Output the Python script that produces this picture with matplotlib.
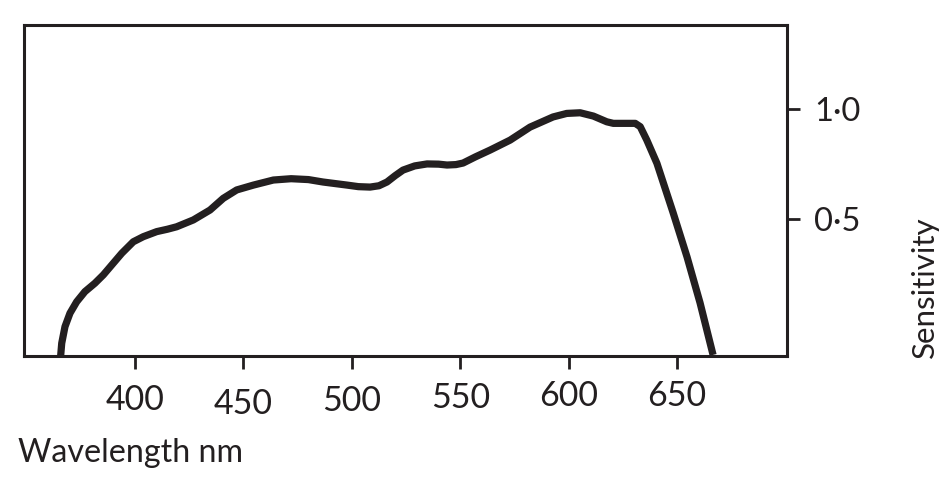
import matplotlib
matplotlib.use("Agg")
import matplotlib.pyplot as plt
import matplotlib.transforms as mtransforms

wavelength = [365.7, 366.2, 367.7, 370.0, 373.1, 376.9, 381.5, 385.4, 389.3, 393.9,
              399.2, 403.8, 410.0, 415.0, 419.2, 426.9, 434.6, 440.7, 446.9, 454.6,
              463.8, 472.0, 480.0, 486.7, 497.8, 503.0, 508.4, 512.5, 516.2, 520.0,
              523.6, 529.0, 534.7, 540.0, 543.9, 548.0, 551.3, 557.0, 563.8, 573.0,
              582.2, 592.8, 599.1, 605.3, 611.4, 617.6, 620.6, 630.7, 633.0, 636.0,
              640.7, 648.2, 654.6, 660.6, 666.6]
sensitivity = [-0.12, -0.062, 0.013, 0.074, 0.126, 0.172, 0.210, 0.248, 0.293, 0.346,
               0.398, 0.421, 0.444, 0.455, 0.466, 0.497, 0.542, 0.595, 0.633, 0.655,
               0.678, 0.684, 0.680, 0.669, 0.655, 0.648, 0.646, 0.652, 0.669, 0.698,
               0.723, 0.742, 0.751, 0.750, 0.746, 0.748, 0.755, 0.783, 0.814, 0.859,
               0.918, 0.964, 0.980, 0.983, 0.968, 0.942, 0.935, 0.935, 0.920, 0.860,
               0.754, 0.529, 0.329, 0.121, -0.115]

xticks = [400, 450, 500, 550, 600, 650]
xticklabels = ["400", "450", "500", "550", "600", "650"]
yticks = [0.5, 1.0]
yticklabels = ["0·5", "1·0"]

plt.rcParams['font.family'] = ['Lato', 'DejaVu Sans']

fig = plt.figure(figsize=(9.51, 4.83), dpi=100)
ax = fig.add_axes([24/951, 1 - 356/483, (787-24)/951, (356-25)/483])

ax.plot(wavelength, sensitivity, color='#231f20', lw=5.2, solid_capstyle='butt',
        solid_joinstyle='round')

ax.set_xlim(348.8, 700.7)
ax.set_ylim(-0.12, 1.381)

for s in ax.spines.values():
    s.set_linewidth(2.2)
    s.set_color('#231f20')

ax.set_xticks(xticks)
ax.set_xticklabels(xticklabels)
ax.yaxis.tick_right()
ax.set_yticks(yticks)
ax.set_yticklabels(yticklabels)
ax.tick_params(axis='x', direction='out', length=9.5, width=2.0, pad=11,
               labelsize=24.5, colors='#231f20')
ax.tick_params(axis='y', direction='out', length=9.5, width=2.0, pad=10,
               labelsize=23.5, colors='#231f20')

# slight hand-set vertical jitter of the printed tick labels (pixels)
offsets = [0, -4, -1, 2, 4, 4]
for lab, dy in zip(ax.get_xticklabels(), offsets):
    lab.set_transform(lab.get_transform() +
                      mtransforms.ScaledTranslation(0, dy/100, fig.dpi_scale_trans))

fig.text(18/951, 1 - 453/483, "Wavelength nm", fontsize=23.2, color='#231f20',
         ha='left', va='center')
fig.text(925/951, 1 - 358/483, "Sensitivity", fontsize=22.5, color='#231f20',
         rotation=90, ha='center', va='bottom')

fig.savefig("out.png", dpi=100)
